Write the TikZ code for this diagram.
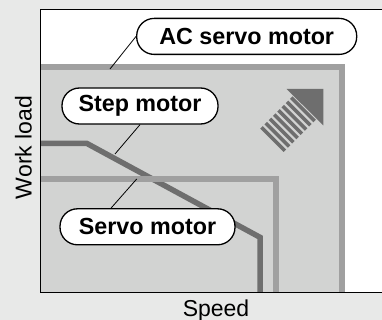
\documentclass[tikz,border=0pt]{standalone}
\usepackage{fontspec}
\setmainfont{Liberation Sans}
\definecolor{bgc}{HTML}{E8E9E8}
\definecolor{areac}{HTML}{D2D3D2}
\definecolor{lightl}{HTML}{A0A0A0}
\definecolor{darkl}{HTML}{6E6E6E}
\tikzset{
  bubble/.style={draw=black, line width=1.3pt, fill=white, rounded corners=17.5pt,
    minimum height=36pt, inner sep=0pt, font=\fontsize{23.3}{26}\selectfont\bfseries},
  leader/.style={draw=black, line width=0.8pt},
  axislabel/.style={font=\fontsize{23}{25}\selectfont, inner sep=0pt, anchor=base},
  curve/.style={line width=6pt},
}
\begin{document}
\begin{tikzpicture}[x=1pt,y=-1pt]
\useasboundingbox (0,0) rectangle (382,320);
\fill[bgc] (0,0) rectangle (382,320);
\fill[white] (40.7,9.5) rectangle (382,292.7);
\fill[areac] (40.7,64) rectangle (345,292.7);
% curves
\coordinate (acA) at (40.7,67);
\coordinate (acB) at (342,67);
\coordinate (acC) at (342,292.7);
\draw[curve, lightl] (acA) -- (acB) -- (acC);
\coordinate (stA) at (40.7,143.5);
\coordinate (stB) at (87,143.5);
\coordinate (stC) at (260,237.3);
\coordinate (stD) at (260,292.7);
\draw[curve, darkl, line width=5.5pt] (stA) -- (stB) -- (stC) -- (stD);
\coordinate (svA) at (40.7,179);
\coordinate (svB) at (276,179);
\coordinate (svC) at (276,292.7);
\draw[curve, lightl] (svA) -- (svB) -- (svC);
% arrow
\coordinate (tip) at (323.3,89);
\fill[darkl] (tip) -- (286.7,89) -- (323.3,125.5) -- cycle;
\foreach \d in {0,6,...,42} {
  \pgfmathsetmacro{\cx}{305-(\d+3)*0.7071}
  \pgfmathsetmacro{\cy}{107.2+(\d+3)*0.7071}
  \draw[darkl, line width=3.6pt] (\cx-11.7,\cy-11.7) -- (\cx+11.7,\cy+11.7);
}
% frame
\draw[black, line width=1.3pt] (382,9.5) -- (40.7,9.5) -- (40.7,292.7) -- (382,292.7);
% labels
\node[bubble, minimum width=220pt] (ac) at (246.7,36.4) {AC servo motor};
\node[bubble, minimum width=156pt] (step) at (140,106) {Step motor};
\node[bubble, minimum width=175pt] (servo) at (147.5,226.8) {Servo motor};
\coordinate (acL) at (110,69);
\coordinate (stL) at (115,154);
\coordinate (svL) at (136.7,179);
\coordinate (stT) at (140,0);
\coordinate (svT) at (111,0);
\draw[leader] (acL) -- (ac.west);
\draw[leader] (stL) -- (step.south -| stT);
\draw[leader] (svL) -- (servo.north -| svT);
\node[axislabel, rotate=90] (yl) at (31.5,147.5) {Work load};
\node[axislabel] (xl) at (216,316.5) {Speed};
\end{tikzpicture}
\end{document}
